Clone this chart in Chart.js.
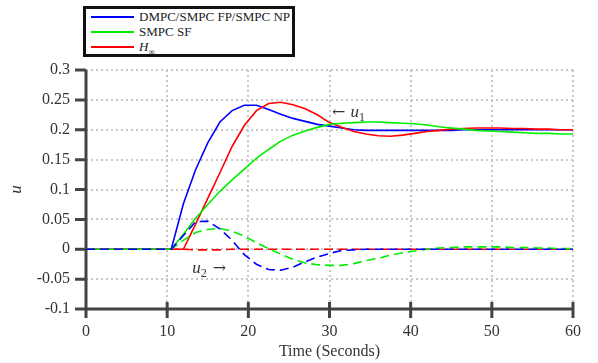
<!DOCTYPE html>
<html>
<head>
<meta charset="utf-8">
<script src="https://cdn.jsdelivr.net/npm/chart.js@4"></script>
<style>
  body { margin: 0; background: #fff; }
  #wrap { position: relative; width: 598px; height: 363px; }
  #legend {
    position: absolute; left: 83px; top: 6px; width: 212px; height: 51px;
    box-sizing: border-box; border: 3px solid #111; background: #fff;
    font-family: "Liberation Serif", serif; font-size: 13px; color: #222;
  }
  #legend .row { height: 15px; line-height: 15px; display: flex; align-items: center; white-space: nowrap; }
  #legend .swatch { flex: 0 0 43px; height: 2px; margin: 0 5px 0 5px; }
  #legend sub { font-size: 9px; line-height: 0; }
</style>
</head>
<body>
<div id="wrap">
  <canvas id="myChart" width="598" height="363"></canvas>
  <div id="legend"></div>
</div>
<script>
// sample times (s), step 1.5
const times = [0, 1.5, 3, 4.5, 6, 7.5, 9, 10.5, 12, 13.5, 15, 16.5, 18, 19.5, 21, 22.5, 24, 25.5, 27, 28.5,
  30, 31.5, 33, 34.5, 36, 37.5, 39, 40.5, 42, 43.5, 45, 46.5, 48, 49.5, 51, 52.5, 54, 55.5, 57, 58.5, 60];

// u1 (solid)
const dmpcU1 = [0, 0, 0, 0, 0, 0, 0, 0, 0.076, 0.133, 0.178, 0.213, 0.232, 0.241, 0.241, 0.234, 0.226, 0.219, 0.214, 0.209,
  0.206, 0.203, 0.200, 0.199, 0.199, 0.199, 0.199, 0.199, 0.199, 0.199, 0.199, 0.200, 0.200, 0.200, 0.200, 0.200, 0.200, 0.200, 0.200, 0.200, 0.200];
const smpcU1 = [0, 0, 0, 0, 0, 0, 0, 0, 0.025, 0.052, 0.075, 0.097, 0.116, 0.134, 0.152, 0.167, 0.181, 0.191, 0.198, 0.204,
  0.209, 0.211, 0.212, 0.213, 0.213, 0.212, 0.211, 0.210, 0.208, 0.205, 0.203, 0.201, 0.199, 0.198, 0.197, 0.196, 0.195, 0.194, 0.194, 0.193, 0.193];
const hinfU1 = [0, 0, 0, 0, 0, 0, 0, 0, 0, 0.042, 0.085, 0.128, 0.172, 0.207, 0.232, 0.244, 0.246, 0.242, 0.235, 0.225,
  0.212, 0.204, 0.197, 0.193, 0.190, 0.189, 0.191, 0.194, 0.197, 0.199, 0.201, 0.202, 0.203, 0.203, 0.203, 0.202, 0.202, 0.201, 0.201, 0.200, 0.200];

// u2 (dashed)
const dmpcU2 = [0, 0, 0, 0, 0, 0, 0, 0, 0.023, 0.046, 0.047, 0.034, 0.015, -0.009, -0.025, -0.034, -0.035, -0.030, -0.021, -0.013,
  -0.007, -0.002, -0.001, 0, 0, 0, 0, 0, 0, 0, 0, 0, 0, 0, 0, 0, 0, 0, 0, 0, 0];
const smpcU2 = [0, 0, 0, 0, 0, 0, 0, 0, 0.015, 0.028, 0.033, 0.035, 0.030, 0.022, 0.011, 0.001, -0.008, -0.017, -0.023, -0.026,
  -0.027, -0.027, -0.024, -0.019, -0.015, -0.010, -0.006, -0.003, 0, 0.002, 0.003, 0.004, 0.004, 0.004, 0.004, 0.003, 0.003, 0.002, 0.002, 0.001, 0.001];
const hinfU2 = [0, 0, 0, 0, 0, 0, 0, 0, 0, -0.001, -0.001, -0.001, 0, 0, 0, 0, 0, 0, 0, 0,
  0, 0, 0, 0, 0, 0, 0, 0, 0, 0, 0, 0, 0, 0, 0, 0, 0, 0, 0, 0, 0];

const xTicks = [0, 10, 20, 30, 40, 50, 60];
const yTicks = [-0.1, -0.05, 0, 0.05, 0.1, 0.15, 0.2, 0.25, 0.3];

const legendNames = ['DMPC/SMPC FP/SMPC NP', 'SMPC SF', '<i>H</i><sub>&infin;</sub>'];
const colors = ['#0000ff', '#00ee00', '#ff0000'];

function pts(vals) {
  return times.map((t, i) => ({ x: t, y: vals[i] }));
}

function line(vals, color, dashed) {
  return {
    data: pts(vals),
    borderColor: color,
    borderWidth: 1.6,
    borderDash: dashed ? [9, 5] : [],
    pointRadius: 0,
    tension: 0,
    fill: false
  };
}

// legend box
const legendEl = document.getElementById('legend');
legendNames.forEach((name, i) => {
  const row = document.createElement('div');
  row.className = 'row';
  row.innerHTML = '<span class="swatch" style="background:' + colors[i] + '"></span><span>' + name + '</span>';
  legendEl.appendChild(row);
});

// solid axis lines + tick marks (grid lines stay dotted)
const axisPlugin = {
  id: 'axisLines',
  beforeDatasetsDraw(chart) {
    const ctx = chart.ctx;
    const a = chart.chartArea;
    const xs = chart.scales.x, ys = chart.scales.y;
    ctx.save();
    ctx.strokeStyle = '#444';
    ctx.lineWidth = 3;
    ctx.setLineDash([]);
    ctx.beginPath();
    ctx.moveTo(a.left, a.top);
    ctx.lineTo(a.left, a.bottom + 9);
    ctx.moveTo(a.left, a.bottom);
    ctx.lineTo(a.right + 1.5, a.bottom);
    yTicks.forEach(v => {
      const y = ys.getPixelForValue(v);
      ctx.moveTo(a.left - 11, y);
      ctx.lineTo(a.left, y);
    });
    xTicks.forEach(v => {
      const x = xs.getPixelForValue(v);
      ctx.moveTo(x, a.bottom - 7);
      ctx.lineTo(x, a.bottom + 9);
    });
    ctx.stroke();
    ctx.restore();
  }
};

// arrow labels u1, u2
const labelPlugin = {
  id: 'uLabels',
  afterDatasetsDraw(chart) {
    const ctx = chart.ctx;
    const xs = chart.scales.x, ys = chart.scales.y;
    ctx.save();
    ctx.fillStyle = '#333';
    ctx.textBaseline = 'middle';

    // ← u1
    let px = xs.getPixelForValue(30.3), py = ys.getPixelForValue(0.229);
    ctx.font = '16px "DejaVu Serif", serif';
    ctx.fillText('\u2190', px, py);
    px += ctx.measureText('\u2190 ').width;
    ctx.font = 'italic 17px "Liberation Serif", serif';
    ctx.fillText('u', px, py);
    px += ctx.measureText('u').width;
    ctx.font = '12px "Liberation Serif", serif';
    ctx.fillText('1', px, py + 5);

    // u2 →
    px = xs.getPixelForValue(13.1); py = ys.getPixelForValue(-0.032);
    ctx.font = 'italic 17px "Liberation Serif", serif';
    ctx.fillText('u', px, py);
    px += ctx.measureText('u').width;
    ctx.font = '12px "Liberation Serif", serif';
    ctx.fillText('2', px, py + 5);
    px += ctx.measureText('2').width + 6;
    ctx.font = '16px "DejaVu Serif", serif';
    ctx.fillText('\u2192', px, py);
    ctx.restore();
  }
};

const tickFont = { family: '"Liberation Serif", serif', size: 16 };

new Chart(document.getElementById('myChart'), {
  type: 'line',
  data: {
    datasets: [
      line(dmpcU2, colors[0], true),
      line(smpcU2, colors[1], true),
      line(hinfU2, colors[2], true),
      line(smpcU1, colors[1], false),
      line(hinfU1, colors[2], false),
      line(dmpcU1, colors[0], false)
    ]
  },
  options: {
    responsive: false,
    animation: false,
    layout: { padding: { left: 0, right: 25, top: 70, bottom: 0 } },
    plugins: { legend: { display: false }, tooltip: { enabled: false } },
    scales: {
      x: {
        type: 'linear',
        min: 0,
        max: 60,
        afterBuildTicks: (s) => { s.ticks = xTicks.map(v => ({ value: v })); },
        afterFit: (s) => { s.height = 54; },
        grid: { color: '#c8c8c8', lineWidth: 2, drawTicks: false },
        border: { display: false, dash: [2, 3] },
        ticks: { color: '#333', font: tickFont, padding: 13, maxRotation: 0 },
        title: { display: true, text: 'Time (Seconds)', color: '#333', font: tickFont, padding: { top: 0, bottom: 2 } }
      },
      y: {
        min: -0.1,
        max: 0.3,
        afterBuildTicks: (s) => { s.ticks = yTicks.map(v => ({ value: v })); },
        afterFit: (s) => { s.width = 86; },
        grid: { color: '#c8c8c8', lineWidth: 2, drawTicks: false },
        border: { display: false, dash: [2, 3] },
        ticks: { color: '#333', font: tickFont, padding: 16, callback: (v) => String(Number(v.toFixed(2))) },
        title: { display: true, text: 'u', color: '#333', font: { family: '"Liberation Serif", serif', size: 17, style: 'italic' }, padding: { top: 6, bottom: 0 } }
      }
    }
  },
  plugins: [axisPlugin, labelPlugin]
});
</script>
</body>
</html>
